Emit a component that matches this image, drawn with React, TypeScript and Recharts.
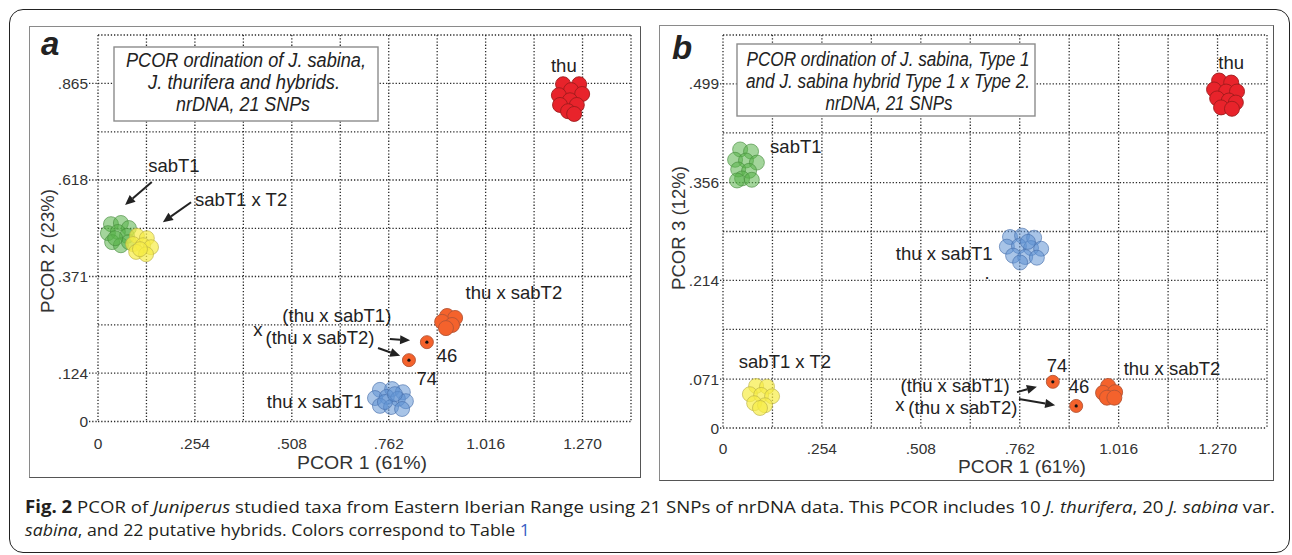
import React from 'react'
import {
  ScatterChart,
  Scatter,
  XAxis,
  YAxis,
  CartesianGrid,
  ReferenceDot,
  ReferenceLine,
} from 'recharts'

type Pt = [number, number]

// axes: grid every half step, labels every full step
const X_GRID = [0, 0.127, 0.254, 0.381, 0.508, 0.635, 0.762, 0.889, 1.016, 1.143, 1.27, 1.397]
const X_TICKS = [0, 0.254, 0.508, 0.762, 1.016, 1.27]
const X_TICK_LABELS = ['0', '.254', '.508', '.762', '1.016', '1.270']

const Y_GRID_A = [0, 0.124, 0.247, 0.371, 0.494, 0.618, 0.741, 0.865, 0.989]
const Y_TICKS_A = [0, 0.124, 0.371, 0.618, 0.865]
const Y_TICK_LABELS_A = ['0', '.124', '.371', '.618', '.865']

const Y_GRID_B = [0, 0.071, 0.143, 0.214, 0.285, 0.356, 0.428, 0.499, 0.57]
const Y_TICKS_B = [0, 0.071, 0.214, 0.356, 0.499]
const Y_TICK_LABELS_B = ['0', '.071', '.214', '.356', '.499']

// panel a: PCOR 1 x PCOR 2
const A_SABT1: Pt[] = [[0.034, 0.505], [0.06, 0.508], [0.081, 0.495], [0.026, 0.482], [0.052, 0.485], [0.076, 0.475], [0.037, 0.459], [0.06, 0.451], [0.081, 0.459], [0.045, 0.469]]
const A_SABT1T2: Pt[] = [[0.102, 0.475], [0.128, 0.469], [0.092, 0.454], [0.118, 0.451], [0.139, 0.446], [0.1, 0.434], [0.126, 0.428], [0.11, 0.441]]
const A_THU: Pt[] = [[1.219, 0.863], [1.261, 0.863], [1.24, 0.848], [1.208, 0.835], [1.269, 0.838], [1.237, 0.822], [1.211, 0.81], [1.255, 0.81], [1.232, 0.794], [1.248, 0.787]]
const A_THUSABT1: Pt[] = [[0.739, 0.081], [0.771, 0.083], [0.799, 0.075], [0.726, 0.06], [0.757, 0.063], [0.786, 0.058], [0.807, 0.052], [0.739, 0.04], [0.768, 0.037], [0.797, 0.032], [0.752, 0.05], [0.778, 0.07]]
const A_THUSABT2: Pt[] = [[0.915, 0.27], [0.936, 0.265], [0.902, 0.255], [0.928, 0.247], [0.912, 0.239]]
const A_SINGLES: Pt[] = [[0.862, 0.203], [0.815, 0.157]]

// panel b: PCOR 1 x PCOR 3
const B_SABT1: Pt[] = [[0.044, 0.404], [0.072, 0.401], [0.031, 0.389], [0.059, 0.388], [0.087, 0.385], [0.039, 0.375], [0.067, 0.373], [0.049, 0.362], [0.074, 0.36], [0.036, 0.359]]
const B_SABT1T2: Pt[] = [[0.085, 0.061], [0.113, 0.06], [0.069, 0.049], [0.098, 0.048], [0.126, 0.046], [0.08, 0.036], [0.108, 0.033], [0.095, 0.029]]
const B_THU: Pt[] = [[1.274, 0.504], [1.305, 0.501], [1.261, 0.491], [1.292, 0.488], [1.32, 0.488], [1.269, 0.478], [1.299, 0.475], [1.317, 0.472], [1.279, 0.465], [1.307, 0.463]]
const B_THUSABT1: Pt[] = [[0.737, 0.277], [0.768, 0.279], [0.799, 0.276], [0.729, 0.263], [0.76, 0.264], [0.791, 0.261], [0.817, 0.26], [0.745, 0.25], [0.776, 0.248], [0.806, 0.247], [0.763, 0.24], [0.783, 0.27]]
const B_THUSABT2: Pt[] = [[0.989, 0.061], [0.976, 0.051], [1.007, 0.052], [0.986, 0.044], [1.005, 0.044]]
const B_SINGLES: Pt[] = [[0.847, 0.067], [0.907, 0.032]]

// text labels placed in data units
const A_NOTES = [
  { text: 'thu', x: 1.221, y: 0.912 },
  { text: 'sabT1', x: 0.199, y: 0.654 },
  { text: 'sabT1 x T2', x: 0.375, y: 0.567 },
  { text: 'thu x sabT2', x: 1.09, y: 0.329 },
  { text: '(thu x sabT1)', x: 0.626, y: 0.27 },
  { text: 'x', x: 0.419, y: 0.236 },
  { text: '(thu x sabT2)', x: 0.582, y: 0.214 },
  { text: '46', x: 0.915, y: 0.17 },
  { text: '74', x: 0.862, y: 0.111 },
  { text: 'thu x sabT1', x: 0.569, y: 0.052 },
]
const A_ARROWS: Pt[][] = [
  [[0.141, 0.613], [0.071, 0.554]],
  [[0.244, 0.561], [0.17, 0.51]],
  [[0.765, 0.211], [0.818, 0.208]],
  [[0.734, 0.188], [0.792, 0.168]],
]

const B_NOTES = [
  { text: 'thu', x: 1.305, y: 0.53 },
  { text: 'sabT1', x: 0.187, y: 0.408 },
  { text: 'thu x sabT1', x: 0.568, y: 0.253 },
  { text: '.', x: 0.678, y: 0.226 },
  { text: 'sabT1 x T2', x: 0.159, y: 0.097 },
  { text: '74', x: 0.858, y: 0.09 },
  { text: '46', x: 0.914, y: 0.06 },
  { text: 'thu x sabT2', x: 1.153, y: 0.086 },
  { text: '(thu x sabT1)', x: 0.596, y: 0.061 },
  { text: 'x', x: 0.454, y: 0.034 },
  { text: '(thu x sabT2)', x: 0.616, y: 0.03 },
]
const B_ARROWS: Pt[][] = [
  [[0.755, 0.052], [0.806, 0.06]],
  [[0.76, 0.042], [0.853, 0.033]],
]

const FONT = '"Liberation Sans", Arial, sans-serif'
const X_AXIS_H = 30
const Y_AXIS_W = 40
const GRID_COLOR = '#2a2a2a'
const GRID_DASH = '1.3 1.9'

const STYLE = {
  sabT1: { fill: 'rgba(88,178,72,0.55)', stroke: 'rgba(70,140,60,0.7)', r: 7.5 },
  sabT1T2: { fill: 'rgba(246,236,70,0.7)', stroke: 'rgba(185,175,70,0.7)', r: 7.5 },
  thu: { fill: '#e8232b', stroke: '#9e1c1c', r: 7.5 },
  thuSabT1: { fill: 'rgba(96,148,212,0.55)', stroke: 'rgba(70,110,170,0.7)', r: 7.5 },
  thuSabT2: { fill: '#f4622c', stroke: '#b35536', r: 7.5 },
  single: { fill: '#f4622c', stroke: '#b35536', r: 6.5 },
}

const toXY = (pts: Pt[]) => pts.map(([x, y]) => ({ x, y }))

const arrowShape = (p: any) => {
  const { x1, y1, x2, y2 } = p
  const a = Math.atan2(y2 - y1, x2 - x1)
  const L = 10
  const W = 4.5
  const bx = x2 - L * Math.cos(a)
  const by = y2 - L * Math.sin(a)
  const px = -Math.sin(a) * W
  const py = Math.cos(a) * W
  return (
    <g>
      <line x1={x1} y1={y1} x2={bx} y2={by} stroke="#222" strokeWidth={2} />
      <polygon points={`${x2},${y2} ${bx + px},${by + py} ${bx - px},${by - py}`} fill="#222" />
    </g>
  )
}

const Panel = ({ cfg }: { cfg: any }) => {
  const { box, margin, yMax, yGrid, yTicks, yTickLabels, series, notes, arrows, yGap, xDy } = cfg
  const plotLeft = margin.left + Y_AXIS_W
  const plotBottom = box.h - margin.bottom - X_AXIS_H

  const xTick = (p: any) => {
    const i = X_TICKS.findIndex((v) => Math.abs(v - p.payload.value) < 1e-6)
    if (i < 0) return <g />
    return (
      <text x={p.x} y={plotBottom + xDy} textAnchor="middle" dominantBaseline="central" fontSize={15.5} fill="#333" fontFamily={FONT}>
        {X_TICK_LABELS[i]}
      </text>
    )
  }
  const yTick = (p: any) => {
    const i = yTicks.findIndex((v: number) => Math.abs(v - p.payload.value) < 1e-6)
    if (i < 0) return <g />
    return (
      <g>
        <line x1={plotLeft - yGap + 1} x2={plotLeft} y1={p.y} y2={p.y} stroke={GRID_COLOR} strokeDasharray={GRID_DASH} strokeWidth={1.3} />
        <text x={plotLeft - yGap} y={p.y} textAnchor="end" dominantBaseline="central" fontSize={15.5} fill="#333" fontFamily={FONT}>
          {yTickLabels[i]}
        </text>
      </g>
    )
  }

  return (
    <div style={{ position: 'absolute', left: box.x, top: box.y }}>
      <ScatterChart width={box.w} height={box.h} margin={margin}>
        <CartesianGrid
          stroke={GRID_COLOR}
          strokeDasharray={GRID_DASH}
          strokeWidth={1.3}
          verticalValues={X_GRID}
          horizontalValues={yGrid}
        />
        <XAxis
          type="number"
          dataKey="x"
          domain={[0, 1.397]}
          ticks={X_GRID}
          interval={0}
          allowDataOverflow
          axisLine={false}
          tickLine={false}
          height={X_AXIS_H}
          tick={xTick}
        />
        <YAxis
          type="number"
          dataKey="y"
          domain={[0, yMax]}
          ticks={yGrid}
          interval={0}
          allowDataOverflow
          axisLine={false}
          tickLine={false}
          width={Y_AXIS_W}
          tick={yTick}
        />
        {series.map((s: any) => (
          <Scatter
            key={s.name}
            name={s.name}
            data={toXY(s.pts)}
            isAnimationActive={false}
            shape={(p: any) => (
              <g>
                <circle cx={p.cx} cy={p.cy} r={s.style.r} fill={s.style.fill} stroke={s.style.stroke} strokeWidth={0.9} />
                {s.core && <circle cx={p.cx} cy={p.cy} r={1.6} fill="#111" />}
              </g>
            )}
          />
        ))}
        {arrows.map((a: Pt[], i: number) => (
          <ReferenceLine
            key={'ar' + i}
            segment={[{ x: a[0][0], y: a[0][1] }, { x: a[1][0], y: a[1][1] }]}
            ifOverflow="visible"
            shape={arrowShape}
          />
        ))}
        {notes.map((n: any, i: number) => (
          <ReferenceDot
            key={'n' + i}
            x={n.x}
            y={n.y}
            r={0}
            fill="none"
            stroke="none"
            ifOverflow="visible"
            label={(p: any) => (
              <text
                x={p.viewBox.x}
                y={p.viewBox.y}
                textAnchor="middle"
                dominantBaseline="central"
                fontSize={18.5}
                fill="#222"
                fontFamily={FONT}
              >
                {n.text}
              </text>
            )}
          />
        ))}
      </ScatterChart>
    </div>
  )
}

const PANEL_A = {
  box: { x: 29, y: 26, w: 611, h: 451 },
  margin: { top: 9, right: 9, bottom: 25.5, left: 29 },
  yMax: 0.989,
  yGrid: Y_GRID_A,
  yTicks: Y_TICKS_A,
  yTickLabels: Y_TICK_LABELS_A,
  yGap: 10,
  xDy: 21.5,
  series: [
    { name: 'sabT1', pts: A_SABT1, style: STYLE.sabT1 },
    { name: 'sabT1 x T2', pts: A_SABT1T2, style: STYLE.sabT1T2 },
    { name: 'thu', pts: A_THU, style: STYLE.thu },
    { name: 'thu x sabT1', pts: A_THUSABT1, style: STYLE.thuSabT1 },
    { name: 'thu x sabT2', pts: A_THUSABT2, style: STYLE.thuSabT2 },
    { name: '46 / 74', pts: A_SINGLES, style: STYLE.single, core: true },
  ],
  notes: A_NOTES,
  arrows: A_ARROWS,
}

const PANEL_B = {
  box: { x: 659, y: 25, w: 614, h: 455 },
  margin: { top: 10, right: 6, bottom: 22, left: 24 },
  yMax: 0.57,
  yGrid: Y_GRID_B,
  yTicks: Y_TICKS_B,
  yTickLabels: Y_TICK_LABELS_B,
  yGap: 4,
  xDy: 20,
  series: [
    { name: 'sabT1', pts: B_SABT1, style: STYLE.sabT1 },
    { name: 'sabT1 x T2', pts: B_SABT1T2, style: STYLE.sabT1T2 },
    { name: 'thu', pts: B_THU, style: STYLE.thu },
    { name: 'thu x sabT1', pts: B_THUSABT1, style: STYLE.thuSabT1 },
    { name: 'thu x sabT2', pts: B_THUSABT2, style: STYLE.thuSabT2 },
    { name: '74 / 46', pts: B_SINGLES, style: STYLE.single, core: true },
  ],
  notes: B_NOTES,
  arrows: B_ARROWS,
}

const frame = (x: number, y: number, w: number, h: number) => ({
  position: 'absolute' as const,
  left: x,
  top: y,
  width: w,
  height: h,
  boxSizing: 'border-box' as const,
  border: '1.5px solid #8a8a8a',
  borderRightColor: '#555',
  borderBottomColor: '#555',
  background: '#fff',
})

const App = () => {
  return (
    <div style={{ position: 'absolute', left: 0, top: 0, width: 1292, height: 555, background: '#fff', overflow: 'hidden' }}>
      <div
        style={{
          position: 'absolute',
          left: 9,
          top: 9,
          width: 1281,
          height: 544,
          boxSizing: 'border-box',
          border: '1.5px solid #222',
          borderRadius: 14,
        }}
      />
      <div style={frame(29, 26, 612, 452)} />
      <div style={frame(659, 25, 615, 456)} />
      <Panel cfg={PANEL_A} />
      <Panel cfg={PANEL_B} />
      <svg width={1292} height={555} style={{ position: 'absolute', left: 0, top: 0, pointerEvents: 'none' }} fontFamily={FONT}>
        <text x={41} y={55} fontSize={33} fontWeight={700} fontStyle="italic" fill="#222">a</text>
        <text x={672} y={59} fontSize={33} fontWeight={700} fontStyle="italic" fill="#222">b</text>

        <rect x={114} y={47} width={264} height={74} fill="#fff" stroke="#8c8c8c" strokeWidth={1.4} />
        <g fontSize={20} fontStyle="italic" fill="#222" textAnchor="middle">
          <text x={246} y={67} textLength={240} lengthAdjust="spacingAndGlyphs">PCOR ordination of J. sabina,</text>
          <text x={244} y={89} textLength={192} lengthAdjust="spacingAndGlyphs">J. thurifera and hybrids.</text>
          <text x={243} y={111} textLength={134} lengthAdjust="spacingAndGlyphs">nrDNA, 21 SNPs</text>
        </g>

        <rect x={737} y={44} width={298} height={72} fill="#fff" stroke="#8c8c8c" strokeWidth={1.4} />
        <g fontSize={20} fontStyle="italic" fill="#222" textAnchor="middle">
          <text x={888} y={66} textLength={283} lengthAdjust="spacingAndGlyphs">PCOR ordination of J. sabina, Type 1</text>
          <text x={888} y={88} textLength={284} lengthAdjust="spacingAndGlyphs">and J. sabina hybrid Type 1 x Type 2.</text>
          <text x={889} y={110} textLength={127} lengthAdjust="spacingAndGlyphs">nrDNA, 21 SNPs</text>
        </g>

        <g fontSize={18.5} fill="#333" textAnchor="middle">
          <text x={362} y={469} textLength={130} lengthAdjust="spacingAndGlyphs">PCOR 1 (61%)</text>
          <text x={1022} y={473} textLength={128} lengthAdjust="spacingAndGlyphs">PCOR 1 (61%)</text>
          <text x={47} y={251} dy={6.5} transform="rotate(-90 47 251)" textLength={124} lengthAdjust="spacingAndGlyphs">PCOR 2 (23%)</text>
          <text x={678} y={228} dy={6.5} transform="rotate(-90 678 228)" textLength={124} lengthAdjust="spacingAndGlyphs">PCOR 3 (12%)</text>
        </g>

        <g fontFamily='"Open Sans", sans-serif' fontSize={17} fill="#231f20">
          <text x={25} y={513} textLength={1250} lengthAdjust="spacingAndGlyphs">
            <tspan fontWeight={700}>Fig. 2</tspan>{' PCOR of '}<tspan fontStyle="italic">Juniperus</tspan>
            {' studied taxa from Eastern Iberian Range using 21 SNPs of nrDNA data. This PCOR includes 10 '}
            <tspan fontStyle="italic">J. thurifera</tspan>{', 20 '}<tspan fontStyle="italic">J. sabina</tspan>{' var.'}
          </text>
          <text x={25} y={536} textLength={505} lengthAdjust="spacingAndGlyphs">
            <tspan fontStyle="italic">sabina</tspan>{', and 22 putative hybrids. Colors correspond to Table '}
            <tspan fill="#3d5fc4">1</tspan>
          </text>
        </g>
      </svg>
    </div>
  )
}

export default App
